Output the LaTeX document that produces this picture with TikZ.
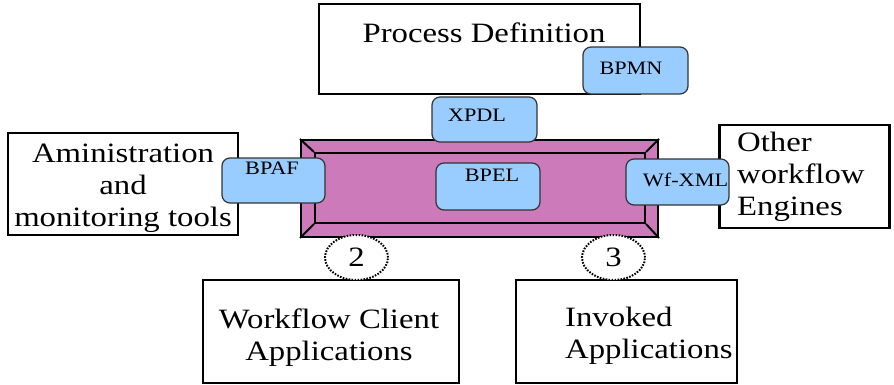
\documentclass[tikz,border=0pt]{standalone}
\usepackage{fontspec}
\setmainfont{Liberation Serif}[FakeStretch=1.17]
\usetikzlibrary{positioning,shapes.geometric}
\definecolor{stdblue}{HTML}{99CCFF}
\definecolor{enginepink}{RGB}{204,122,185}

\begin{document}
\begin{tikzpicture}[x=1pt,y=-1pt,
                bigbox/.style={draw=black,line width=2.4pt,fill=white,inner sep=0pt},
                std/.style={draw=black!80,line width=1.2pt,rounded corners=8pt,fill=stdblue,inner sep=0pt},
                bigtxt/.style={font=\fontsize{28}{32}\selectfont,inner sep=0pt},
                stdtxt/.style={font=\fontsize{19}{22}\selectfont,inner sep=0pt},
                ifnum/.style={draw=black,ellipse,line width=2pt,dash pattern=on 1.6pt off 1.4pt,fill=white,minimum width=63pt,minimum height=45pt,inner sep=0pt,font=\fontsize{28}{32}\selectfont}]
                \useasboundingbox (0,0) rectangle (894,385);
                % outer boxes
                \node[bigbox,minimum width=321pt,minimum height=90pt](procdef)at(479.5, 49){};
                \node[bigtxt,anchor=base](procdeftxt)at(484, 43){Process Definition};
                \node[bigbox,minimum width=230pt,minimum height=102pt](admin)at(123, 184){};
                \node[bigtxt,align=center](admintxt)at(123, 188){Aministration\\and\\monitoring tools};
                \node[bigbox,minimum width=170pt,minimum height=103pt](other)at(804.5, 176.5){};
                \node[bigtxt,align=left,anchor=west](othertxt)at(737, 177){Other\\workflow\\Engines};
                \node[bigbox,minimum width=256pt,minimum height=103pt](client)at(331, 331.5){};
                \node[bigtxt,align=center](clienttxt)at(329, 338){Workflow Client\\Applications};
                \node[bigbox,minimum width=221pt,minimum height=103pt](invoked)at(626.5, 331.5){};
                \node[bigtxt,align=left,anchor=west](invokedtxt)at(565, 336){Invoked\\Applications};
                % the engine
                \node[draw=black,line width=2pt,fill=enginepink,minimum width=357pt,minimum height=97pt,inner sep=0pt](engine)at(479.5, 188.5){};
                \node[draw=black,line width=2pt,minimum width=330pt,minimum height=70pt,inner sep=0pt](core)at(480, 188){};
                \draw[line width=2pt](engine.north west) -- (core.north west)
                (engine.north east) -- (core.north east)
                (engine.south west) -- (core.south west)
                (engine.south east) -- (core.south east);
                % standards
                \node[std,minimum width=105pt,minimum height=47pt](bpmn)at(635.5, 70.5){};
                \node[stdtxt,anchor=base](bpmntxt)at(631, 75){BPMN};
                \node[std,minimum width=105pt,minimum height=45pt](xpdl)at(484.5, 119.5){};
                \node[stdtxt,anchor=base](xpdltxt)at(477, 122){XPDL};
                \node[std,minimum width=104pt,minimum height=47pt](bpel)at(488, 186.5){};
                \node[stdtxt,anchor=base](bpeltxt)at(492, 182){BPEL};
                \node[std,minimum width=103pt,minimum height=45pt](bpaf)at(273.5, 180.5){};
                \node[stdtxt,anchor=base](bpaftxt)at(272, 175){BPAF};
                \node[std,minimum width=103pt,minimum height=46pt](wfxml)at(677.5, 182){};
                \node[stdtxt,anchor=base](wfxmltxt)at(685.5, 186){Wf-XML};
                % interfaces
                \node[ifnum](two)at(356.5, 257.5){2};
                \node[ifnum](three)at(613.5, 257.5){3};
            \end{tikzpicture}
\end{document}
